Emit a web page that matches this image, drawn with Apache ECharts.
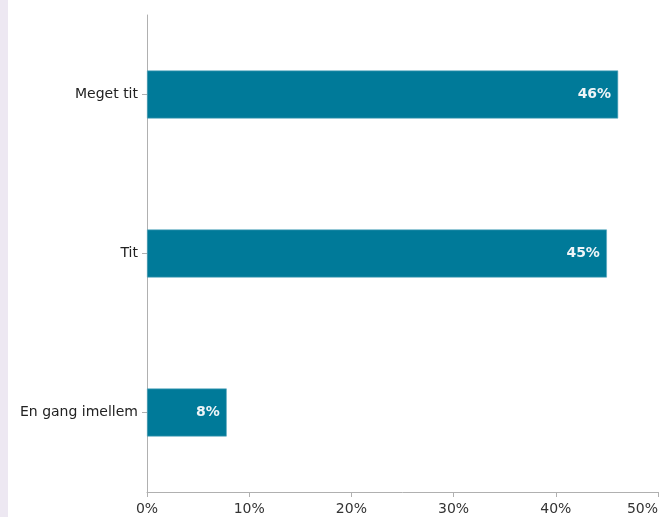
<!DOCTYPE html>
<html><head><meta charset="utf-8">
<script src="https://cdn.jsdelivr.net/npm/echarts@6/dist/echarts.min.js"></script>
<style>html,body{margin:0;padding:0;background:#fff}#c{width:662px;height:517px}</style>
</head><body><div id="c"></div>
<script>
const categories = ["Meget tit", "Tit", "En gang imellem"];
const values = [46.1, 45.0, 7.8];
const xTicks = [0, 10, 20, 30, 40, 50];

const chart = echarts.init(document.getElementById('c'), null, {renderer: 'canvas'});
chart.setOption({
  animation: false,
  textStyle: {fontFamily: 'DejaVu Sans'},
  graphic: [{type: 'rect', shape: {x: 0, y: 0, width: 8, height: 517}, style: {fill: '#ede8f2'}, silent: true}],
  grid: {left: 147, right: 4, top: 15, bottom: 25, containLabel: false, outerBoundsMode: 'none'},
  xAxis: {
    type: 'value', min: xTicks[0], max: xTicks[xTicks.length - 1], interval: 10,
    axisLine: {show: true, lineStyle: {color: '#b0b0b0', width: 1}},
    axisTick: {show: true, length: 5, lineStyle: {color: '#b0b0b0'}},
    splitLine: {show: false},
    axisLabel: {formatter: v => v + '%', color: '#333', fontSize: 14, margin: 10, alignMaxLabel: 'right'}
  },
  yAxis: {
    type: 'category', data: categories, inverse: true,
    axisLine: {show: true, lineStyle: {color: '#b0b0b0', width: 1}},
    axisTick: {show: true, alignWithLabel: true, length: 5, lineStyle: {color: '#b0b0b0'}},
    axisLabel: {color: '#222', fontSize: 14, margin: 9}
  },
  series: [{
    type: 'bar', data: values, barWidth: 48,
    itemStyle: {color: '#007a99', borderColor: '#5aa9c0', borderWidth: 0.6},
    label: {show: true, position: 'insideRight', distance: 7,
      formatter: p => Math.round(p.value) + '%', color: '#eef4f7', fontSize: 14, fontWeight: 'bold'}
  }]
});
</script></body></html>
